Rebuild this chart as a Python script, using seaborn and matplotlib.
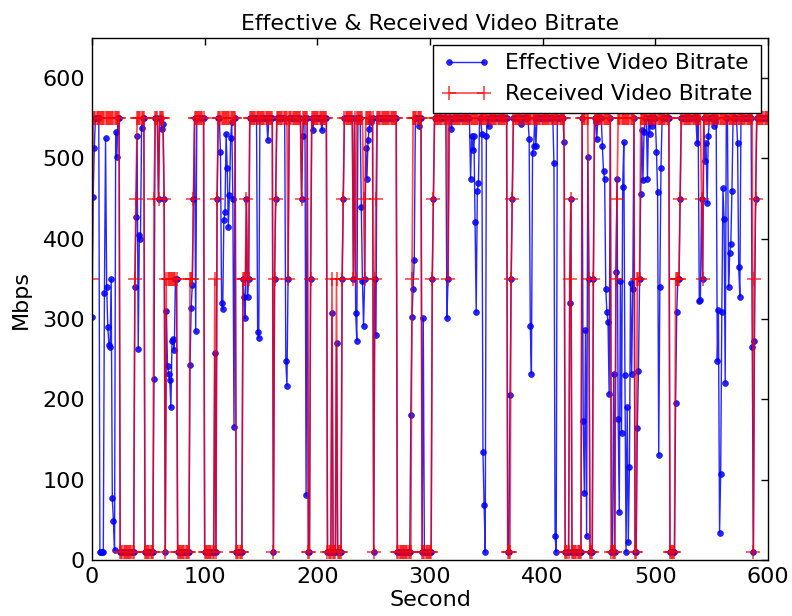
import numpy as np
import pandas as pd
import matplotlib
matplotlib.use("Agg")
import matplotlib.pyplot as plt
import seaborn as sns

# Received bitrate as runs of (level, number of seconds)
red_levels = [350, 550, 10, 350, 450, 550, 10, 450, 550, 450, 550, 450, 10, 350, 10, 350, 450, 550,
              10, 350, 10, 450, 550, 10, 350, 450, 350, 550, 10, 350, 450, 550, 350, 550, 450, 550,
              10, 350, 550, 10, 350, 10, 350, 10, 350, 450, 550, 350, 550, 350, 550, 450, 350, 550,
              10, 350, 450, 550, 10, 350, 550, 10, 350, 450, 550, 350, 550, 10, 350, 450, 550,
              10, 350, 450, 10, 550, 350, 10, 350, 550, 10, 350, 450, 550, 10, 350, 550,
              10, 350, 450, 550, 450, 350, 550, 10, 350, 450, 550]
red_runs = [1, 24, 13, 1, 1, 7, 8, 1, 3, 1, 4, 1, 1, 10, 11, 3, 1, 9,
            9, 1, 1, 1, 16, 6, 3, 1, 2, 21, 1, 1, 1, 10, 1, 11, 1, 5,
            2, 1, 14, 4, 1, 3, 1, 4, 1, 1, 8, 1, 1, 1, 6, 1, 1, 7,
            1, 1, 1, 18, 13, 1, 8, 9, 1, 1, 12, 1, 52, 3, 1, 1, 46,
            4, 1, 1, 9, 6, 1, 3, 1, 15, 4, 1, 1, 15, 2, 3, 26,
            5, 4, 1, 18, 1, 1, 44, 1, 1, 1, 11]

# Effective bitrate: seconds where it differs from the received bitrate
blue_sec = [0, 1, 2, 7, 8, 9, 10, 11, 12, 13, 14, 15, 16, 17, 18, 19, 20, 21, 22,
            38, 39, 40, 41, 42, 43, 44, 55, 62, 63, 66, 67, 68, 69, 70, 71, 72, 73,
            87, 88, 89, 92, 109, 114, 115, 116, 117, 118, 119, 120, 121, 122, 123, 124, 125, 126,
            135, 136, 138, 147, 148, 156, 172, 173, 187, 190, 196, 204, 213, 217,
            234, 235, 239, 240, 241, 243, 244, 245, 246, 248, 252,
            283, 284, 285, 286, 290, 294, 315, 319,
            336, 337, 338, 339, 340, 341, 342, 343, 346, 347, 348, 349, 350, 352, 371,
            381, 388, 389, 390, 391, 392, 394, 410, 411, 412, 419,
            424, 436, 437, 438, 439, 440, 447, 448,
            453, 454, 455, 456, 457, 458, 459, 463,
            465, 466, 467, 468, 469, 470, 471, 472, 473, 474, 475, 476, 477, 478, 479, 480,
            484, 485, 487, 488, 489, 490, 493, 495, 497, 501, 502, 503, 504, 505,
            518, 519, 537, 539, 540, 544, 545, 546, 547, 552, 553,
            555, 556, 557, 558, 559, 560, 561, 562, 565, 566, 567, 568, 573, 574, 575,
            586, 588]
blue_val = [303, 452, 513, 10, 10, 10, 10, 332, 525, 340, 290, 268, 265, 350, 77, 48, 12, 533, 502,
            340, 427, 528, 263, 405, 400, 538, 225, 537, 543, 310, 241, 232, 224, 190, 273, 275, 262,
            243, 314, 343, 285, 258, 508, 320, 312, 423, 433, 531, 488, 415, 455, 525, 545, 450, 166,
            328, 301, 328, 284, 276, 523, 248, 217, 528, 81, 535, 535, 308, 270,
            308, 273, 440, 348, 292, 513, 475, 523, 537, 545, 280,
            180, 303, 338, 373, 541, 301, 301, 537,
            475, 528, 510, 528, 421, 309, 460, 470, 531, 135, 69, 10, 528, 540, 205,
            543, 524, 292, 232, 507, 515, 516, 494, 30, 10, 520,
            320, 173, 83, 286, 30, 502, 545, 524,
            515, 484, 475, 338, 309, 296, 207, 232,
            359, 475, 175, 60, 347, 158, 464, 520, 230, 10, 190, 22, 116, 345, 232, 338,
            164, 235, 456, 535, 473, 533, 475, 531, 541, 508, 458, 131, 340, 488,
            195, 309, 519, 322, 324, 497, 519, 445, 528, 541, 545,
            248, 311, 34, 107, 309, 463, 425, 221, 340, 382, 394, 460, 519, 365, 328,
            265, 273]

received = np.repeat(red_levels, red_runs).astype(float)
effective = received.copy()
effective[blue_sec] = blue_val
seconds = np.arange(len(received))

df = pd.DataFrame({"Second": seconds, "Effective": effective, "Received": received})

sns.set_style("white")
plt.rcParams["font.family"] = ["DejaVu Sans"]
plt.rcParams["text.color"] = "black"
plt.rcParams["axes.labelcolor"] = "black"
plt.rcParams["xtick.color"] = "black"
plt.rcParams["ytick.color"] = "black"
plt.rcParams["xtick.direction"] = "in"
plt.rcParams["ytick.direction"] = "in"

fig = plt.figure(figsize=(7.92, 6.16), dpi=100)
ax = fig.add_axes([0.1162, 0.0909, 0.9697 - 0.1162, 0.9383 - 0.0909])

sns.lineplot(data=df, x="Second", y="Effective", ax=ax, estimator=None, sort=False,
             color="#0000ff", linewidth=1.0, marker="o", markersize=4.2,
             markeredgecolor="#0000ff", markeredgewidth=0.5, alpha=0.85,
             label="Effective Video Bitrate")
sns.lineplot(data=df, x="Second", y="Received", ax=ax, estimator=None, sort=False,
             color="#ff0000", linewidth=1.2, marker="+", markersize=10,
             markeredgecolor="#ff0000", markeredgewidth=1.2, alpha=0.72,
             label="Received Video Bitrate")

ax.set_xlim(0, 600)
ax.set_ylim(0, 650)
ax.set_xticks(range(0, 601, 100))
ax.set_yticks(range(0, 601, 100))
ax.tick_params(axis="both", which="major", direction="in", length=5, width=1,
               labelsize=16, pad=5, top=True, right=True, colors="black")
for s in ax.spines.values():
    s.set_visible(True)
    s.set_color("black")
    s.set_linewidth(1.0)

ax.set_title("Effective & Received Video Bitrate", fontsize=15.8, pad=6, color="black")
ax.set_xlabel("Second", fontsize=16, labelpad=2, color="black")
ax.set_ylabel("Mbps", fontsize=16, labelpad=8, color="black")

leg = ax.legend(loc="upper right", fontsize=15.7, numpoints=2, handlelength=2.2,
                fancybox=False, framealpha=1, edgecolor="black",
                borderaxespad=0.3, borderpad=0.4, labelspacing=0.5, handletextpad=0.7)
leg.get_frame().set_linewidth(1.0)
for t in leg.get_texts():
    t.set_color("black")

fig.savefig("out.png", dpi=100)
